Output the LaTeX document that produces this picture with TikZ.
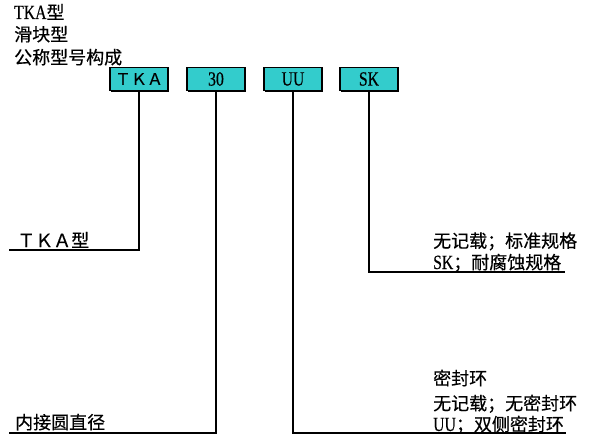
\documentclass[tikz,border=0pt]{standalone}
\usepackage{fontspec}
\setmainfont{Noto Sans CJK SC}[FakeBold=0.4]
\newfontfamily\latin[Scale=1.12, FakeStretch=0.78, FakeBold=0.4]{Liberation Serif}
\usetikzlibrary{shadows}

\begin{document}
\begin{tikzpicture}[x=1pt, y=-1pt,
    codebox/.style={draw=black, line width=1.1pt, fill=code-cyan,
        minimum width=58pt, minimum height=23pt, inner sep=0pt,
        drop shadow={shadow xshift=1.2pt, shadow yshift=-1.2pt,
            fill=black, opacity=1},
        font=\fontsize{18}{18}\selectfont},
    lead/.style={draw=black, line width=1.6pt},
    note/.style={anchor=base west, inner sep=0pt,
        font=\fontsize{18}{18}\selectfont}]
    % Definitions
    \definecolor{code-cyan}{RGB}{51, 204, 204}
    \useasboundingbox (0,0) rectangle (595,444);

    % Title
    \node[note] (title1) at (14,19) {{\latin TKA}型};
    \node[note] (title2) at (14,41) {滑块型};
    \node[note] (title3) at (14,64) {公称型号构成};

    % Code boxes
    \node[codebox] (tka)  at (139,79) {\fontsize{16}{16}\selectfont ＴＫＡ};
    \node[codebox] (dia)  at (216,79) {\latin 30};
    \node[codebox] (seal) at (293,79) {\latin UU};
    \node[codebox] (spec) at (369,79) {\latin SK};

    % Lead ends
    \coordinate (tkaEnd)  at (9,250);
    \coordinate (diaEnd)  at (9,433);
    \coordinate (sealEnd) at (566,433);
    \coordinate (specEnd) at (565,272);

    % Leads
    \draw[lead] (tka.south)  |- (tkaEnd);
    \draw[lead] (dia.south)  |- (diaEnd);
    \draw[lead] (seal.south) |- (sealEnd);
    \draw[lead] (spec.south) |- (specEnd);

    % Notes
    \node[note] (tkaNote) at (17,247) {ＴＫＡ型};
    \node[note] (diaNote) at (15,429) {内接圆直径};
    \node[note] (specNote1) at (433,247.5) {无记载；标准规格};
    \node[note] (specNote2) at (433,269) {{\latin SK}；耐腐蚀规格};
    \node[note] (sealNote1) at (433,385) {密封环};
    \node[note] (sealNote2) at (433,410) {无记载；无密封环};
    \node[note] (sealNote3) at (433,431) {{\latin UU}；双侧密封环};
\end{tikzpicture}
\end{document}
